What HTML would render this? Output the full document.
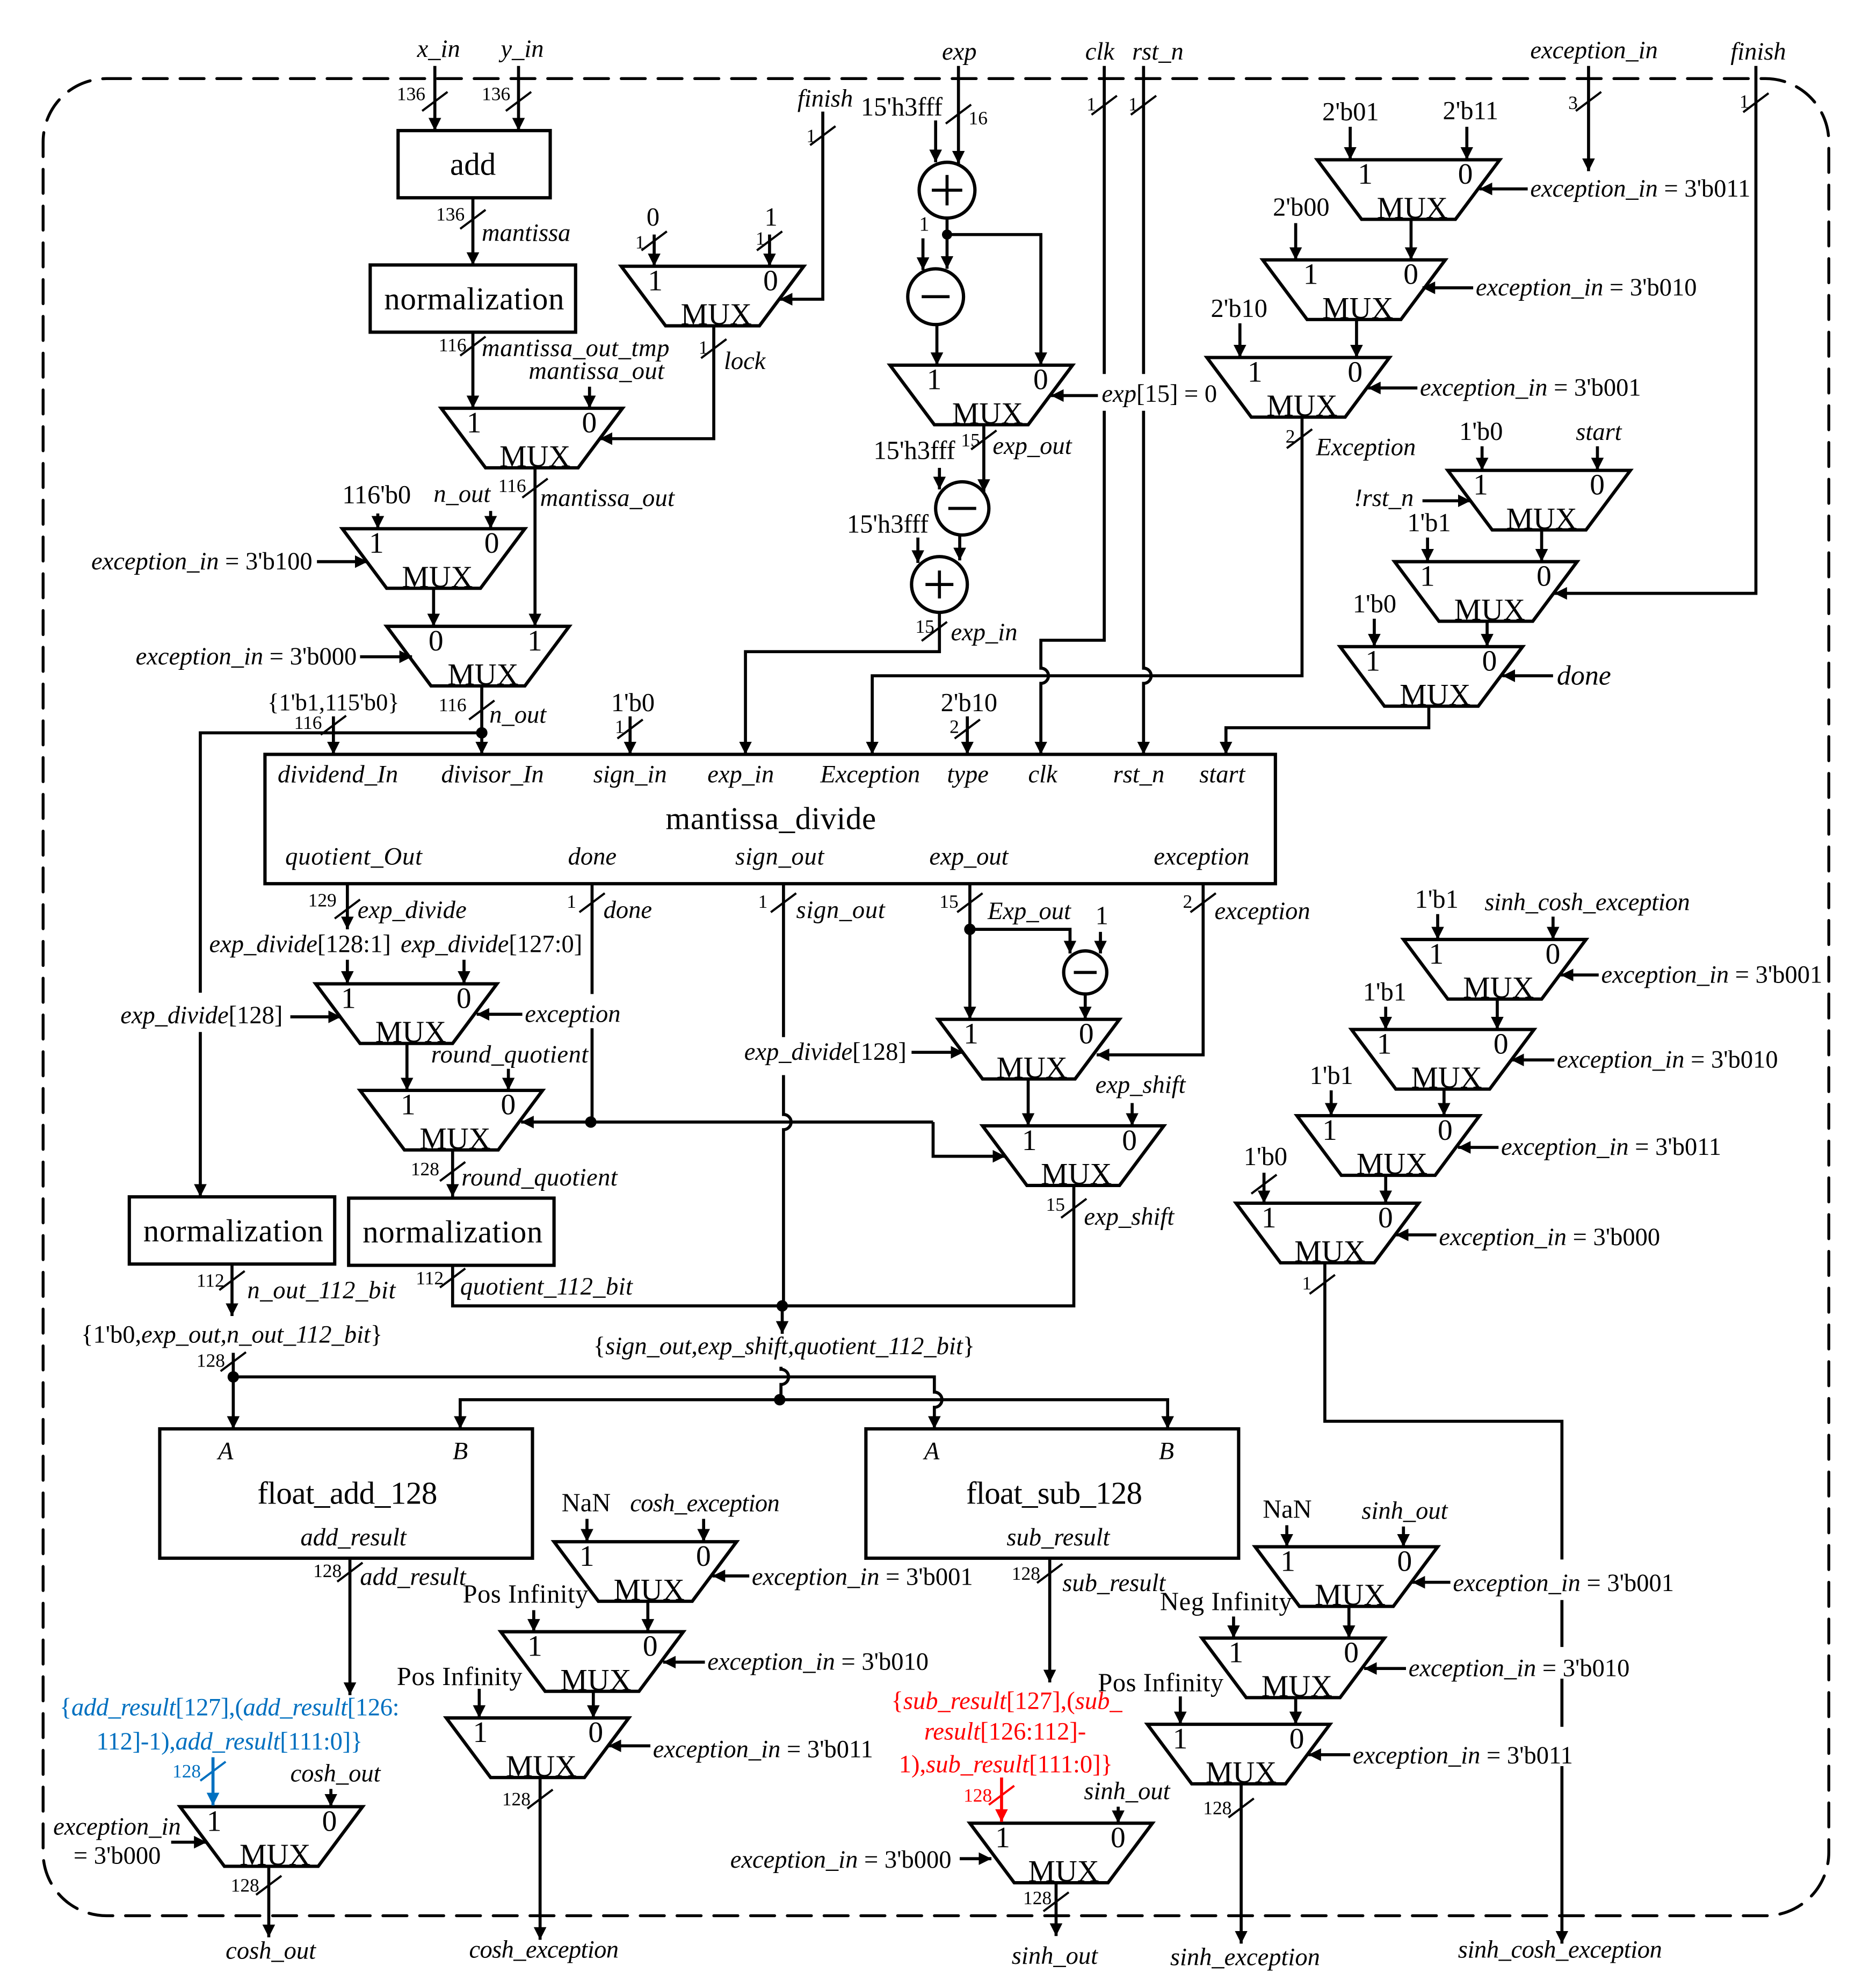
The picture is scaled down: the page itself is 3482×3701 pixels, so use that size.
<!DOCTYPE html>
<html><head><meta charset="utf-8"><title>Diagram</title>
<style>
html,body{margin:0;padding:0;background:#fff}
svg{display:block}
text{font-family:"Liberation Serif",serif;fill:#000}
.i{font-style:italic;font-size:19.7px}
.r{font-style:normal}
.t{font-size:20.5px;font-style:normal}
.n{font-size:15px;font-style:normal}
.b{font-size:25px;font-style:normal}
.d{font-size:23.5px;font-style:normal}
.m{font-size:24px;font-style:normal;text-anchor:middle}
.w{fill:none;stroke:#000;stroke-width:2.4}
.a{fill:none;stroke:#000;stroke-width:2.4;marker-end:url(#ah)}
.k{fill:none;stroke:#000;stroke-width:1.7}
.s{fill:#fff;stroke:#000;stroke-width:2.6;stroke-linejoin:miter}
.o{fill:none;stroke:#000;stroke-width:2.6}
.dot{fill:#000}
</style></head><body>
<svg xmlns="http://www.w3.org/2000/svg" width="3482" height="3701" viewBox="0 0 1475 1568" preserveAspectRatio="none">
<defs>
<marker id="ah" markerUnits="userSpaceOnUse" markerWidth="11" markerHeight="11" refX="10" refY="5" orient="auto"><path d="M0 0L10 5L0 10z" fill="#000"/></marker>
<marker id="ahb" markerUnits="userSpaceOnUse" markerWidth="11" markerHeight="11" refX="10" refY="5" orient="auto"><path d="M0 0L10 5L0 10z" fill="#0070C0"/></marker>
<marker id="ahr" markerUnits="userSpaceOnUse" markerWidth="11" markerHeight="11" refX="10" refY="5" orient="auto"><path d="M0 0L10 5L0 10z" fill="#FF0000"/></marker>
</defs>
<rect width="1475" height="1568" fill="#fff"/>
<rect x="34" y="62" width="1408.5" height="1449" rx="50" ry="50" fill="none" stroke="#000" stroke-width="2.3" stroke-dasharray="19 10" stroke-linecap="round"/>

<!-- Blocks -->
<rect class="o" x="314" y="103" width="120" height="53"/>
<rect class="o" x="292" y="209" width="162" height="53"/>
<rect class="o" x="209" y="595" width="797" height="102"/>
<rect class="o" x="102" y="944" width="162" height="53"/>
<rect class="o" x="275" y="945" width="162" height="53"/>
<rect class="o" x="126" y="1127" width="294" height="102"/>
<rect class="o" x="683" y="1127" width="294" height="102"/>

<!-- Muxes -->
<g class="s">
<polygon points="490,210 634,210 599,257 525,257"/>
<polygon points="348,322 491,322 456,369 383,369"/>
<polygon points="270,417 414,417 379,464 305,464"/>
<polygon points="305,494 449,494 414,541 340,541"/>
<polygon points="702,288 846,288 811,335 737,335"/>
<polygon points="1039,126 1183,126 1148,173 1074,173"/>
<polygon points="996,205 1140,205 1105,252 1031,252"/>
<polygon points="952,282 1096,282 1061,329 987,329"/>
<polygon points="1142,371 1286,371 1251,418 1177,418"/>
<polygon points="1100,443 1244,443 1209,490 1135,490"/>
<polygon points="1057,510 1201,510 1166,557 1092,557"/>
<polygon points="249,776 392,776 357,823 284,823"/>
<polygon points="284,860 428,860 393,907 319,907"/>
<polygon points="740,804 883,804 848,851 775,851"/>
<polygon points="775,888 918,888 883,935 810,935"/>
<polygon points="1107,741 1251,741 1216,788 1142,788"/>
<polygon points="1066,812 1210,812 1175,859 1101,859"/>
<polygon points="1023,880 1167,880 1132,927 1058,927"/>
<polygon points="975,949 1119,949 1084,996 1010,996"/>
<polygon points="437,1216 581,1216 546,1263 472,1263"/>
<polygon points="395,1287 539,1287 504,1334 430,1334"/>
<polygon points="352,1355 496,1355 461,1402 387,1402"/>
<polygon points="142,1425 286,1425 251,1472 177,1472"/>
<polygon points="990,1220 1134,1220 1099,1267 1025,1267"/>
<polygon points="948,1292 1092,1292 1057,1339 983,1339"/>
<polygon points="905,1360 1049,1360 1014,1407 940,1407"/>
<polygon points="765,1438 909,1438 874,1485 800,1485"/>
</g>
<g>
<text class="m" x="565" y="256">MUX</text><text class="d" x="511" y="229">1</text><text class="d" x="602" y="229">0</text>
<text class="m" x="422" y="368">MUX</text><text class="d" x="368" y="341">1</text><text class="d" x="459" y="341">0</text>
<text class="m" x="345" y="463">MUX</text><text class="d" x="291" y="436">1</text><text class="d" x="382" y="436">0</text>
<text class="m" x="381" y="540">MUX</text><text class="d" x="338" y="513">0</text><text class="d" x="416" y="513">1</text>
<text class="m" x="779" y="334">MUX</text><text class="d" x="731" y="307">1</text><text class="d" x="815" y="307">0</text>
<text class="m" x="1114" y="172">MUX</text><text class="d" x="1071" y="145">1</text><text class="d" x="1150" y="145">0</text>
<text class="m" x="1071" y="251">MUX</text><text class="d" x="1028" y="224">1</text><text class="d" x="1107" y="224">0</text>
<text class="m" x="1027" y="328">MUX</text><text class="d" x="984" y="301">1</text><text class="d" x="1063" y="301">0</text>
<text class="m" x="1216" y="417">MUX</text><text class="d" x="1162" y="390">1</text><text class="d" x="1254" y="390">0</text>
<text class="m" x="1175" y="489">MUX</text><text class="d" x="1120" y="462">1</text><text class="d" x="1212" y="462">0</text>
<text class="m" x="1132" y="556">MUX</text><text class="d" x="1077" y="529">1</text><text class="d" x="1169" y="529">0</text>
<text class="m" x="324" y="822">MUX</text><text class="d" x="269" y="795">1</text><text class="d" x="360" y="795">0</text>
<text class="m" x="359" y="906">MUX</text><text class="d" x="316" y="879">1</text><text class="d" x="395" y="879">0</text>
<text class="m" x="814" y="850">MUX</text><text class="d" x="760" y="823">1</text><text class="d" x="851" y="823">0</text>
<text class="m" x="849" y="934">MUX</text><text class="d" x="806" y="907">1</text><text class="d" x="885" y="907">0</text>
<text class="m" x="1182" y="787">MUX</text><text class="d" x="1127" y="760">1</text><text class="d" x="1219" y="760">0</text>
<text class="m" x="1141" y="858">MUX</text><text class="d" x="1086" y="831">1</text><text class="d" x="1178" y="831">0</text>
<text class="m" x="1098" y="926">MUX</text><text class="d" x="1043" y="899">1</text><text class="d" x="1134" y="899">0</text>
<text class="m" x="1049" y="995">MUX</text><text class="d" x="995" y="968">1</text><text class="d" x="1087" y="968">0</text>
<text class="m" x="512" y="1262">MUX</text><text class="d" x="457" y="1235">1</text><text class="d" x="549" y="1235">0</text>
<text class="m" x="470" y="1333">MUX</text><text class="d" x="416" y="1306">1</text><text class="d" x="507" y="1306">0</text>
<text class="m" x="427" y="1401">MUX</text><text class="d" x="373" y="1374">1</text><text class="d" x="464" y="1374">0</text>
<text class="m" x="217" y="1471">MUX</text><text class="d" x="163" y="1444">1</text><text class="d" x="254" y="1444">0</text>
<text class="m" x="1065" y="1266">MUX</text><text class="d" x="1010" y="1239">1</text><text class="d" x="1102" y="1239">0</text>
<text class="m" x="1023" y="1338">MUX</text><text class="d" x="969" y="1311">1</text><text class="d" x="1060" y="1311">0</text>
<text class="m" x="979" y="1406">MUX</text><text class="d" x="925" y="1379">1</text><text class="d" x="1017" y="1379">0</text>
<text class="m" x="839" y="1484">MUX</text><text class="d" x="785" y="1457">1</text><text class="d" x="876" y="1457">0</text>
</g>

<!-- Circles -->
<g class="o">
<circle class="o" cx="747" cy="150" r="22"/>
<circle class="o" cx="738" cy="234" r="22"/>
<circle class="o" cx="759" cy="401" r="21"/>
<circle class="o" cx="741" cy="461" r="22"/>
<circle class="o" cx="856" cy="767" r="17"/>
</g>
<path class="w" d="M735 150H759M747 138V162M727 234H749M748 401H770M730 461H752M741 450V472M847 767H865"/>

<!-- Arrow wires -->
<path class="a" d="M343 52V103"/><path class="a" d="M409 52V103"/>
<path class="a" d="M373 156V209"/><path class="a" d="M373 262V322"/>
<path class="a" d="M465 305V322"/>
<path class="a" d="M516 185V210"/><path class="a" d="M607 185V210"/>
<path class="a" d="M649 88V236H615"/>
<path class="a" d="M563 258V346H473"/>
<path class="a" d="M422 369V494"/>
<path class="a" d="M298 405V417"/><path class="a" d="M387 403V417"/>
<path class="a" d="M250 443H290"/>
<path class="a" d="M342 464V494"/>
<path class="a" d="M284 518H325"/>
<path class="a" d="M380 541V595"/>
<path class="w" d="M380 578H158V783"/>
<path class="a" d="M158 814V944"/>
<path class="a" d="M263 565V595"/>
<path class="a" d="M497 565V595"/>
<path class="a" d="M738 95V128"/><path class="a" d="M756 52V129"/>
<path class="a" d="M728 188V213"/>
<path class="w" d="M747 172V185"/><path class="a" d="M747 185V212"/>
<path class="a" d="M747 185H821V288"/>
<path class="a" d="M739 256V288"/>
<path class="a" d="M776 335V388"/>
<path class="a" d="M741 369V386"/>
<path class="a" d="M866 312H829"/>
<path class="a" d="M724 424V444"/><path class="a" d="M757 422V442"/>
<path class="a" d="M741 483V514H588V595"/>
<path class="w" d="M871 52V295"/>
<path class="a" d="M871 324V505H821V527A6 6 0 0 1 821 539V595"/>
<path class="w" d="M902 52V295"/>
<path class="a" d="M902 324V527A6 6 0 0 1 902 539V595"/>
<path class="a" d="M1027 329V533H688V595"/>
<path class="a" d="M1065 100V126"/><path class="a" d="M1157 100V126"/>
<path class="a" d="M1205 149H1167"/>
<path class="a" d="M1253 52V135"/>
<path class="a" d="M1113 173V205"/>
<path class="a" d="M1022 176V205"/>
<path class="a" d="M1162 227H1122"/>
<path class="a" d="M1070 252V282"/>
<path class="a" d="M978 255V282"/>
<path class="a" d="M1118 306H1079"/>
<path class="a" d="M1169 352V371"/><path class="a" d="M1260 352V371"/>
<path class="a" d="M1122 395H1160"/>
<path class="a" d="M1216 418V443"/>
<path class="a" d="M1126 424V443"/>
<path class="a" d="M1385 52V468H1226"/>
<path class="a" d="M1084 488V510"/>
<path class="a" d="M1173 490V510"/>
<path class="a" d="M1225 533H1185"/>
<path class="a" d="M1127 557V574H967V595"/>
<path class="a" d="M763 565V595"/>
<path class="a" d="M274 697V733"/>
<path class="a" d="M274 757V776"/><path class="a" d="M366 757V776"/>
<path class="a" d="M229 802H269"/>
<path class="a" d="M321 823V860"/>
<path class="a" d="M412 800H376"/>
<path class="a" d="M401 843V860"/>
<path class="w" d="M467 697V784M467 811V885"/>
<path class="a" d="M736 885H411"/>
<path class="a" d="M736 885V912H793"/>
<path class="a" d="M357 907V944"/>
<path class="a" d="M183 997V1038"/>
<path class="a" d="M184 1067V1127"/>
<path class="a" d="M184 1086H737V1098A6 6 0 0 1 737 1110V1127"/>
<path class="a" d="M615 1104H363V1127"/>
<path class="a" d="M615 1104H921V1127"/>
<path class="w" d="M618 697V818"/>
<path class="w" d="M618 848V879A6 6 0 0 1 618 891V1030"/>
<path class="a" d="M719 830H760"/>
<path class="w" d="M357 998V1030H847V936"/>
<path class="a" d="M617 1030V1052"/>
<path class="w" d="M616 1078V1080A6 6 0 0 1 616 1092V1104"/>
<path class="a" d="M765 697V804"/>
<path class="a" d="M765 733H844V752"/>
<path class="a" d="M868 735V752"/>
<path class="a" d="M856 784V804"/>
<path class="a" d="M949 697V832H865"/>
<path class="a" d="M811 851V888"/>
<path class="a" d="M893 870V888"/>
<path class="a" d="M1134 721V741"/><path class="a" d="M1225 723V741"/>
<path class="a" d="M1261 769H1231"/>
<path class="a" d="M1181 788V812"/>
<path class="a" d="M1093 794V812"/>
<path class="a" d="M1226 836H1192"/>
<path class="a" d="M1139 859V880"/>
<path class="a" d="M1050 860V880"/>
<path class="a" d="M1182 905H1150"/>
<path class="a" d="M1093 927V949"/>
<path class="a" d="M997 925V949"/>
<path class="a" d="M1133 974H1101"/>
<path class="w" d="M1045 996V1121H1232V1230M1232 1262V1299M1232 1324V1362"/>
<path class="a" d="M1232 1393V1533"/>
<path class="a" d="M276 1229V1337"/>
<path class="a" d="M261 1411V1425"/>
<path class="a" d="M135 1453H163"/>
<path class="a" d="M212 1472V1528"/>
<path class="a" d="M828 1229V1327"/>
<path class="a" d="M882 1425V1438"/>
<path class="a" d="M757 1466H782"/>
<path class="a" d="M833 1485V1527"/>
<path class="a" d="M463 1198V1216"/><path class="a" d="M555 1198V1216"/>
<path class="a" d="M591 1243H562"/>
<path class="a" d="M511 1263V1287"/>
<path class="a" d="M421 1270V1287"/>
<path class="a" d="M556 1311H523"/>
<path class="a" d="M468 1334V1355"/>
<path class="a" d="M378 1332V1355"/>
<path class="a" d="M513 1377H480"/>
<path class="a" d="M426 1402V1530"/>
<path class="a" d="M1015 1203V1220"/><path class="a" d="M1107 1204V1220"/>
<path class="a" d="M1144 1248H1114"/>
<path class="a" d="M1064 1267V1292"/>
<path class="a" d="M973 1275V1292"/>
<path class="a" d="M1109 1316H1076"/>
<path class="a" d="M1022 1339V1360"/>
<path class="a" d="M931 1338V1360"/>
<path class="a" d="M1065 1384H1032"/>
<path class="a" d="M979 1407V1533"/>
<path fill="none" stroke="#0070C0" stroke-width="2.4" marker-end="url(#ahb)" d="M168 1386V1424"/>
<path fill="none" stroke="#FF0000" stroke-width="2.4" marker-end="url(#ahr)" d="M790 1402V1437"/>

<!-- Junctions -->
<g class="dot">
<circle class="dot" cx="747" cy="185" r="4"/><circle class="dot" cx="380" cy="578" r="4.5"/>
<circle class="dot" cx="466" cy="885" r="4.5"/><circle class="dot" cx="765" cy="733" r="4.5"/>
<circle class="dot" cx="617" cy="1030" r="4.5"/><circle class="dot" cx="615" cy="1104" r="4.5"/>
<circle class="dot" cx="184" cy="1086" r="4.5"/>
</g>

<!-- Ticks -->
<path class="k" d="M333 87.5l20-15M399 87.5l20-15M363 180.5l20-15M363 280.5l20-15M506 197.5l20-15M597 197.5l20-15M639 114.5l20-15M553 282.5l20-15M412 392.5l20-15M370 567.5l20-15M253 579.5l20-15M487 582.5l20-15M746 97.5l20-15M766 354.5l20-15M727 505.5l20-15M861 90.5l20-15M892 90.5l20-15M1015 353.5l20-15M1243 87.5l20-15M1375 88.5l20-15M753 582.5l20-15M264 724.5l20-15M457 719.5l20-15M608 719.5l20-15M755 719.5l20-15M939 719.5l20-15M347 931.5l20-15M347 1015.5l20-15M173 1017.5l20-15M174 1081.5l20-15M837 960.5l20-15M987 941.5l20-15M1033 1020.5l20-15M266 1247.5l20-15M202 1494.5l20-15M818 1248.5l20-15M823 1507.5l20-15M416 1426.5l20-15M969 1433.5l20-15"/>
<path d="M158 1404.5l20-15" fill="none" stroke="#0070C0" stroke-width="1.7"/>
<path d="M780 1423.5l20-15" fill="none" stroke="#FF0000" stroke-width="1.7"/>

<!-- Block labels -->
<text class="b" x="355" y="138">add</text>
<text class="b" x="303" y="244" textLength="142">normalization</text>
<text class="b" x="113" y="979" textLength="142">normalization</text>
<text class="b" x="286" y="980" textLength="142">normalization</text>
<text class="b" x="525" y="654" textLength="166">mantissa_divide</text>
<text class="b" x="203" y="1186" textLength="142">float_add_128</text>
<text class="b" x="762" y="1186" textLength="139">float_sub_128</text>

<!-- Italic labels -->
<g>
<text class="i" x="329" y="45">x_in</text>
<text class="i" x="395" y="45">y_in</text>
<text class="i" x="743" y="47">exp</text>
<text class="i" x="856" y="47">clk</text>
<text class="i" x="893" y="47">rst_n</text>
<text class="i" x="1207" y="46">exception_in</text>
<text class="i" x="1365" y="47">finish</text>
<text class="i" x="380" y="190">mantissa</text>
<text class="i" x="380" y="281" textLength="148">mantissa_out_tmp</text>
<text class="i" x="417" y="299" textLength="107">mantissa_out</text>
<text class="i" x="629" y="84">finish</text>
<text class="i" x="571" y="291">lock</text>
<text class="i" x="426" y="399" textLength="106">mantissa_out</text>
<text class="i" x="342" y="396">n_out</text>
<text class="i" x="72" y="449">exception_in <tspan class="r">= 3'b100</tspan></text>
<text class="i" x="107" y="524">exception_in <tspan class="r">= 3'b000</tspan></text>
<text class="i" x="386" y="570">n_out</text>
<text class="i" x="783" y="358">exp_out</text>
<text class="i" x="869" y="317">exp<tspan class="r">[15] = 0</tspan></text>
<text class="i" x="750" y="505">exp_in</text>
<text class="i" x="1038" y="359">Exception</text>
<text class="i" x="1207" y="155">exception_in <tspan class="r">= 3'b011</tspan></text>
<text class="i" x="1164" y="233">exception_in <tspan class="r">= 3'b010</tspan></text>
<text class="i" x="1120" y="312">exception_in <tspan class="r">= 3'b001</tspan></text>
<text class="i" x="1243" y="347">start</text>
<text class="i" x="1068" y="399">!rst_n</text>
<text class="i" x="1228" y="540" style="font-size:22px">done</text>
<text class="i" x="219" y="617" textLength="95">dividend_In</text>
<text class="i" x="348" y="617">divisor_In</text>
<text class="i" x="468" y="617">sign_in</text>
<text class="i" x="558" y="617">exp_in</text>
<text class="i" x="647" y="617">Exception</text>
<text class="i" x="747" y="617">type</text>
<text class="i" x="811" y="617">clk</text>
<text class="i" x="878" y="617">rst_n</text>
<text class="i" x="946" y="617">start</text>
<text class="i" x="225" y="682" textLength="108">quotient_Out</text>
<text class="i" x="448" y="682">done</text>
<text class="i" x="580" y="682" textLength="70">sign_out</text>
<text class="i" x="733" y="682">exp_out</text>
<text class="i" x="910" y="682">exception</text>
<text class="i" x="282" y="724" textLength="86">exp_divide</text>
<text class="i" x="476" y="724">done</text>
<text class="i" x="628" y="724" textLength="70">sign_out</text>
<text class="i" x="779" y="725">Exp_out</text>
<text class="i" x="958" y="725">exception</text>
<text class="i" x="165" y="751">exp_divide<tspan class="r">[128:1]</tspan></text>
<text class="i" x="316" y="751">exp_divide<tspan class="r">[127:0]</tspan></text>
<text class="i" x="95" y="807">exp_divide<tspan class="r">[128]</tspan></text>
<text class="i" x="414" y="806">exception</text>
<text class="i" x="340" y="838" textLength="124">round_quotient</text>
<text class="i" x="587" y="836">exp_divide<tspan class="r">[128]</tspan></text>
<text class="i" x="864" y="862">exp_shift</text>
<text class="i" x="364" y="935" textLength="123">round_quotient</text>
<text class="i" x="855" y="966">exp_shift</text>
<text class="i" x="195" y="1024" textLength="117">n_out_112_bit</text>
<text class="i" x="363" y="1021" textLength="136">quotient_112_bit</text>
<text class="i" x="64" y="1059"><tspan class="r">{1'b0,</tspan>exp_out,n_out_112_bit<tspan class="r">}</tspan></text>
<text class="i" x="468" y="1068"><tspan class="r">{</tspan>sign_out,exp_shift,quotient_112_bit<tspan class="r">}</tspan></text>
<text class="i" x="1171" y="718" textLength="162">sinh_cosh_exception</text>
<text class="i" x="1263" y="775">exception_in <tspan class="r">= 3'b001</tspan></text>
<text class="i" x="1228" y="842">exception_in <tspan class="r">= 3'b010</tspan></text>
<text class="i" x="1184" y="911">exception_in <tspan class="r">= 3'b011</tspan></text>
<text class="i" x="1135" y="982">exception_in <tspan class="r">= 3'b000</tspan></text>
<text class="i" x="172" y="1151">A</text><text class="i" x="357" y="1151">B</text>
<text class="i" x="729" y="1151">A</text><text class="i" x="914" y="1151">B</text>
<text class="i" x="237" y="1219">add_result</text>
<text class="i" x="794" y="1219">sub_result</text>
<text class="i" x="284" y="1250">add_result</text>
<text class="i" x="838" y="1255">sub_result</text>
<text class="i" x="497" y="1192" textLength="118">cosh_exception</text>
<text class="i" x="1074" y="1198">sinh_out</text>
<text class="i" x="593" y="1250">exception_in <tspan class="r">= 3'b001</tspan></text>
<text class="i" x="558" y="1317">exception_in <tspan class="r">= 3'b010</tspan></text>
<text class="i" x="515" y="1386">exception_in <tspan class="r">= 3'b011</tspan></text>
<text class="i" x="1146" y="1255">exception_in <tspan class="r">= 3'b001</tspan></text>
<text class="i" x="1111" y="1322">exception_in <tspan class="r">= 3'b010</tspan></text>
<text class="i" x="1067" y="1391">exception_in <tspan class="r">= 3'b011</tspan></text>
<text class="i" x="576" y="1473">exception_in <tspan class="r">= 3'b000</tspan></text>
<text class="i" x="229" y="1405">cosh_out</text>
<text class="i" x="855" y="1419">sinh_out</text>
<text class="i" x="42" y="1447">exception_in</text>
<text class="i" x="58" y="1470"><tspan class="r">= 3'b000</tspan></text>
<text class="i" x="178" y="1545">cosh_out</text>
<text class="i" x="370" y="1544" textLength="118">cosh_exception</text>
<text class="i" x="798" y="1549">sinh_out</text>
<text class="i" x="923" y="1550">sinh_exception</text>
<text class="i" x="1150" y="1544" textLength="161">sinh_cosh_exception</text>
<text class="i" x="47" y="1353" textLength="268" style="fill:#0070C0"><tspan class="r" style="fill:#0070C0">{</tspan>add_result<tspan class="r" style="fill:#0070C0">[127],(</tspan>add_result<tspan class="r" style="fill:#0070C0">[126:</tspan></text>
<text class="i" x="76" y="1380" textLength="210" style="fill:#0070C0"><tspan class="r" style="fill:#0070C0">112]-1),</tspan>add_result<tspan class="r" style="fill:#0070C0">[111:0]}</tspan></text>
<text class="i" x="703" y="1348" style="fill:#FF0000"><tspan class="r" style="fill:#FF0000">{</tspan>sub_result<tspan class="r" style="fill:#FF0000">[127],(</tspan>sub_</text>
<text class="i" x="729" y="1372" style="fill:#FF0000">result<tspan class="r" style="fill:#FF0000">[126:112]-</tspan></text>
<text class="i" x="709" y="1398" style="fill:#FF0000"><tspan class="r" style="fill:#FF0000">1),</tspan>sub_result<tspan class="r" style="fill:#FF0000">[111:0]}</tspan></text>
</g>

<!-- Regular constants -->
<g>
<text class="t" x="510" y="178">0</text>
<text class="t" x="603" y="178">1</text>
<text class="t" x="270" y="397">116'b0</text>
<text class="t" x="211" y="560" style="font-size:18.8px">{1'b1,115'b0}</text>
<text class="t" x="482" y="561">1'b0</text>
<text class="t" x="679" y="91">15'h3fff</text>
<text class="t" x="725" y="182" style="font-size:16px">1</text>
<text class="t" x="689" y="362">15'h3fff</text>
<text class="t" x="668" y="420">15'h3fff</text>
<text class="t" x="742" y="561">2'b10</text>
<text class="t" x="1043" y="95">2'b01</text>
<text class="t" x="1138" y="94">2'b11</text>
<text class="t" x="1004" y="170">2'b00</text>
<text class="t" x="955" y="250">2'b10</text>
<text class="t" x="1151" y="347">1'b0</text>
<text class="t" x="1110" y="419">1'b1</text>
<text class="t" x="1067" y="483">1'b0</text>
<text class="t" x="864" y="729">1</text>
<text class="t" x="1116" y="716">1'b1</text>
<text class="t" x="1075" y="789">1'b1</text>
<text class="t" x="1033" y="855">1'b1</text>
<text class="t" x="981" y="919">1'b0</text>
<text class="t" x="443" y="1192">NaN</text>
<text class="t" x="365" y="1264" textLength="99">Pos Infinity</text>
<text class="t" x="313" y="1329" textLength="99">Pos Infinity</text>
<text class="t" x="996" y="1197">NaN</text>
<text class="t" x="915" y="1270" textLength="104">Neg Infinity</text>
<text class="t" x="866" y="1334" textLength="99">Pos Infinity</text>
</g>

<!-- Bus widths -->
<g>
<text class="n" x="313" y="79">136</text><text class="n" x="380" y="79">136</text>
<text class="n" x="344" y="174">136</text><text class="n" x="346" y="277">116</text>
<text class="n" x="501" y="196">1</text><text class="n" x="596" y="193">1</text>
<text class="n" x="636" y="112">1</text><text class="n" x="551" y="279">1</text>
<text class="n" x="393" y="388">116</text><text class="n" x="346" y="561">116</text>
<text class="n" x="232" y="575">116</text><text class="n" x="485" y="578">1</text>
<text class="n" x="764" y="98">16</text><text class="n" x="758" y="352">15</text>
<text class="n" x="722" y="499">15</text><text class="n" x="857" y="87">1</text>
<text class="n" x="890" y="87">1</text><text class="n" x="1014" y="349">2</text>
<text class="n" x="1237" y="86">3</text><text class="n" x="1372" y="85">1</text>
<text class="n" x="749" y="578">2</text><text class="n" x="243" y="715">129</text>
<text class="n" x="447" y="716">1</text><text class="n" x="598" y="716">1</text>
<text class="n" x="741" y="716">15</text><text class="n" x="933" y="716">2</text>
<text class="n" x="324" y="927">128</text><text class="n" x="155" y="1015">112</text>
<text class="n" x="328" y="1013">112</text><text class="n" x="155" y="1078">128</text>
<text class="n" x="825" y="955">15</text>
<text class="n" x="1027" y="1017">1</text><text class="n" x="247" y="1244">128</text>
<text class="n" x="182" y="1492">128</text><text class="n" x="798" y="1246">128</text>
<text class="n" x="807" y="1502">128</text><text class="n" x="396" y="1424">128</text>
<text class="n" x="949" y="1431">128</text>
<text class="n" x="136" y="1402" style="fill:#0070C0">128</text>
<text class="n" x="760" y="1421" style="fill:#FF0000">128</text>
</g>
</svg>
</body></html>
